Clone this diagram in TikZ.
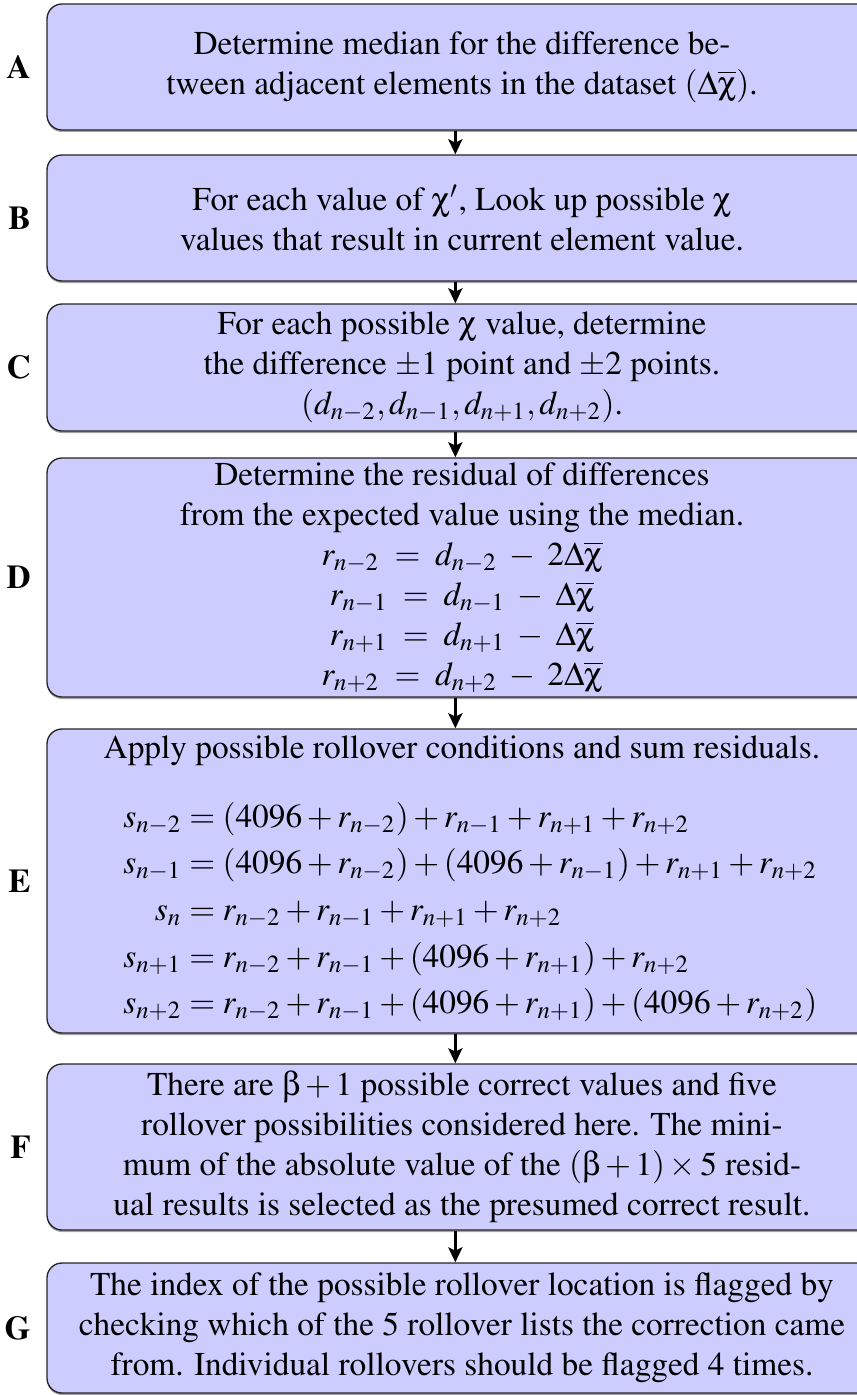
\documentclass[tikz,border=0pt]{standalone}
\usepackage[T1]{fontenc}
\usepackage{amsmath}
\usepackage{mathptmx}
\usepackage[Symbol]{upgreek}
\usetikzlibrary{positioning,arrows.meta,shadows}
\tikzset{
  flowarrow/.style={-{Stealth[length=4.5pt,width=4.2pt,inset=1pt]}, line width=1pt, transform canvas={xshift=-2pt}},
  stepbox/.style={draw=black!85, rounded corners=4.5pt, fill=blue!20, minimum width=249pt, inner xsep=2pt, inner ysep=0pt, align=center,
    drop shadow={shadow xshift=0pt, shadow yshift=-0.6pt, opacity=0.6, fill=black!60}},
  steplabel/.style={font=\bfseries, inner sep=0pt}
}

\begin{document}
\begin{tikzpicture}[x=0.3pt, y=-0.3pt]
  \useasboundingbox (0,0) rectangle (857,1395);
  % steps
  \node[stepbox, minimum height=37.8pt] (median) at (462,67) {Determine median for the difference be-\\tween adjacent elements in the dataset $(\Delta\overline{\upchi})$.};
  \node[stepbox, minimum height=37.8pt] (lookup) at (462,218) {For each value of $\upchi'$, Look up possible $\upchi$\\values that result in current element value.};
  \node[stepbox, minimum height=38.1pt] (diff) at (462,367.5) {For each possible $\upchi$ value, determine\\the difference $\pm1$ point and $\pm2$ points.\\$(d_{n-2},d_{n-1},d_{n+1},d_{n+2})$.};
  \node[stepbox, minimum height=71.7pt] (resid) at (462,577.5) {Determine the residual of differences\\from the expected value using the median.\\
    $r_{n-2}\;=\;d_{n-2}\;-\;2\Delta\overline{\upchi}$\\
    $r_{n-1}\;=\;d_{n-1}\;-\;\Delta\overline{\upchi}$\\
    $r_{n+1}\;=\;d_{n+1}\;-\;\Delta\overline{\upchi}$\\
    $r_{n+2}\;=\;d_{n+2}\;-\;2\Delta\overline{\upchi}$};
  \node[stepbox, minimum height=91.2pt] (rollover) at (462,881) {Apply possible rollover conditions and sum residuals.\\[9pt]
    \setlength{\jot}{2pt}\hspace*{5pt}$\begin{aligned}
      s_{n-2} &= (4096+r_{n-2})+r_{n-1}+r_{n+1}+r_{n+2}\\
      s_{n-1} &= (4096+r_{n-2})+(4096+r_{n-1})+r_{n+1}+r_{n+2}\\
      s_{n} &= r_{n-2}+r_{n-1}+r_{n+1}+r_{n+2}\\
      s_{n+1} &= r_{n-2}+r_{n-1}+(4096+r_{n+1})+r_{n+2}\\
      s_{n+2} &= r_{n-2}+r_{n-1}+(4096+r_{n+1})+(4096+r_{n+2})
    \end{aligned}$};
  \node[stepbox, minimum height=49.8pt] (select) at (462,1147) {There are $\upbeta+1$ possible correct values and five\\rollover possibilities considered here. The mini-\\mum of the absolute value of the $(\upbeta+1)\times5$ resid-\\ual results is selected as the presumed correct result.};
  \node[stepbox, minimum height=39pt] (flag) at (462,1328) {The index of the possible rollover location is flagged by\\checking which of the 5 rollover lists the correction came\\from. Individual rollovers should be flagged 4 times.};

  % step letters
  \node[steplabel, left=4.5pt of median] {A};
  \node[steplabel, left=4.5pt of lookup] {B};
  \node[steplabel, left=4.5pt of diff] {C};
  \node[steplabel, left=4.5pt of resid] {D};
  \node[steplabel, left=4.5pt of rollover] {E};
  \node[steplabel, left=4.5pt of select] {F};
  \node[steplabel, left=4.5pt of flag] {G};

  \draw[flowarrow] (median) -- (lookup);
  \draw[flowarrow] (lookup) -- (diff);
  \draw[flowarrow] (diff) -- (resid);
  \draw[flowarrow] (resid) -- (rollover);
  \draw[flowarrow] (rollover) -- (select);
  \draw[flowarrow] (select) -- (flag);
\end{tikzpicture}
\end{document}
